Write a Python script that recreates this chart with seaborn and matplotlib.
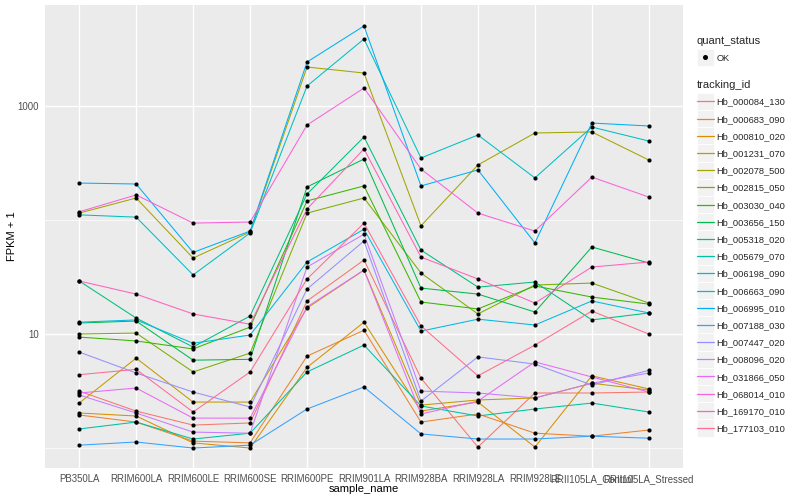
import matplotlib
matplotlib.use("Agg")
import matplotlib.pyplot as plt
from matplotlib.lines import Line2D
from matplotlib.patches import Rectangle
from matplotlib.legend_handler import HandlerLine2D
from matplotlib.ticker import FixedLocator, FixedFormatter, NullFormatter
import seaborn as sns
import pandas as pd

samples = ["PB350LA", "RRIM600LA", "RRIM600LE", "RRIM600SE", "RRIM600PE", "RRIM901LA",
           "RRIM928BA", "RRIM928LA", "RRIM928LE", "RRII105LA_Control", "RRII105LA_Stressed"]

tracking_ids = ["Hb_000084_130", "Hb_000683_090", "Hb_000810_020", "Hb_001231_070", "Hb_002078_500",
                "Hb_002815_050", "Hb_003030_040", "Hb_003656_150", "Hb_005318_020", "Hb_005679_070",
                "Hb_006198_090", "Hb_006663_090", "Hb_006995_010", "Hb_007188_030", "Hb_007447_020",
                "Hb_008096_020", "Hb_031866_050", "Hb_068014_010", "Hb_169170_010", "Hb_177103_010"]

# FPKM + 1 values per gene, in sample order
hb_000084_130 = [3.16, 2.11, 1.59, 1.66, 19.5, 44.6, 4.1, 1.02, 3.04, 3.04, 3.1]
hb_000683_090 = [1.95, 1.69, 1.15, 1.11, 6.4, 10.8, 1.69, 1.99, 1.35, 1.27, 1.44]
hb_000810_020 = [2.03, 1.91, 1.11, 1.0, 5.1, 12.7, 2.11, 2.53, 1.02, 4.3, 3.3]
hb_001231_070 = [2.48, 6.15, 2.53, 2.53, 16.9, 36.4, 2.38, 2.64, 2.75, 3.7, 3.23]
hb_002078_500 = [115, 156, 46.4, 78.5, 2198, 1947, 89, 304, 580, 592, 336]
hb_002815_050 = [10.0, 10.2, 4.65, 6.8, 115, 156, 34.3, 15.0, 26.9, 28, 18.7]
hb_003030_040 = [9.4, 8.7, 7.4, 11.5, 147, 199, 19.1, 16.6, 26.4, 21.1, 18.3]
hb_003656_150 = [12.5, 13.0, 5.9, 6.0, 195, 343, 25.3, 22.4, 15.6, 58, 42]
hb_005318_020 = [29.2, 13.8, 7.7, 14.4, 169, 535, 54.5, 25.8, 28.6, 13.3, 15.3]
hb_005679_070 = [1.47, 1.69, 1.2, 1.35, 4.65, 8.0, 2.34, 1.91, 2.2, 2.48, 2.07]
hb_006198_090 = [111, 106, 33, 77, 1497, 3873, 350, 557, 234, 654, 493]
hb_006663_090 = [12.7, 13.3, 8.3, 9.8, 42.8, 83, 10.6, 13.5, 12.0, 19.5, 15.3]
hb_006995_010 = [211, 207, 52, 80, 2432, 5035, 199, 275, 63, 709, 668]
hb_007188_030 = [1.06, 1.13, 1.0, 1.06, 2.2, 3.43, 1.33, 1.2, 1.2, 1.27, 1.22]
hb_007447_020 = [6.95, 4.55, 3.1, 2.29, 24.8, 65.5, 2.58, 6.3, 5.45, 3.57, 4.8]
hb_008096_020 = [2.92, 2.03, 1.38, 1.35, 38.7, 75, 3.16, 3.04, 2.75, 3.7, 4.55]
hb_031866_050 = [3.04, 3.36, 1.83, 1.83, 17.3, 36.4, 1.99, 2.58, 5.7, 4.2, 3.1]
hb_068014_010 = [118, 166, 94, 96, 681, 1439, 280, 115, 80, 238, 159]
hb_169170_010 = [29.2, 22.4, 15.0, 12.2, 125, 420, 47.3, 30.4, 18.7, 38.7, 42.8]
hb_177103_010 = [4.4, 4.9, 2.07, 4.65, 30.4, 94, 11.8, 4.3, 8.0, 15.9, 10.0]

series = [hb_000084_130, hb_000683_090, hb_000810_020, hb_001231_070, hb_002078_500,
          hb_002815_050, hb_003030_040, hb_003656_150, hb_005318_020, hb_005679_070,
          hb_006198_090, hb_006663_090, hb_006995_010, hb_007188_030, hb_007447_020,
          hb_008096_020, hb_031866_050, hb_068014_010, hb_169170_010, hb_177103_010]

colors = ["#F8766D", "#EA8331", "#D89000", "#C09B00", "#A3A500", "#7CAE00", "#39B600", "#00BB4E",
          "#00BF7D", "#00C1A3", "#00BFC4", "#00BAE0", "#00B0F6", "#35A2FF", "#9590FF", "#C77CFF",
          "#E76BF3", "#FA62DB", "#FF62BC", "#FF6C91"]

rows = []
for tid, vals in zip(tracking_ids, series):
    for s, v in zip(samples, vals):
        rows.append({"tracking_id": tid, "sample_name": s, "fpkm": v, "quant_status": "OK"})
df = pd.DataFrame(rows)

sns.set_theme(style="darkgrid")
plt.rcParams["font.family"] = ["Liberation Sans", "DejaVu Sans"]

fig = plt.figure(figsize=(8, 5), dpi=100)
ax = fig.add_axes([45 / 800, 1 - 468 / 500, (683 - 45) / 800, (468 - 5) / 500])
ax.set_facecolor("#EBEBEB")

sns.lineplot(data=df, x="sample_name", y="fpkm", hue="tracking_id", hue_order=tracking_ids,
             palette=colors, sort=False, legend=False, linewidth=0.75, ax=ax, estimator=None)
sns.scatterplot(data=df, x="sample_name", y="fpkm", color="black", s=9, linewidth=0,
                legend=False, ax=ax, zorder=5)

ax.set_yscale("log")
ax.set_ylim(10 ** -0.175, 10 ** 3.886)
ax.set_xlim(-0.6, len(samples) - 0.4)
ax.yaxis.set_major_locator(FixedLocator([10, 1000]))
ax.yaxis.set_major_formatter(FixedFormatter(["10", "1000"]))
ax.yaxis.set_minor_locator(FixedLocator([1, 100]))
ax.yaxis.set_minor_formatter(NullFormatter())

ax.grid(which="major", color="white", linewidth=1.0)
ax.grid(which="minor", axis="y", color="white", linewidth=0.5)
ax.set_axisbelow(True)
for sp in ax.spines.values():
    sp.set_visible(False)

ax.tick_params(axis="both", which="major", length=2.5, width=0.6, color="#333333",
               labelsize=6.9, labelcolor="#4D4D4D", pad=2)
ax.tick_params(axis="both", which="minor", length=0)
ax.set_xlabel("sample_name", fontsize=8, color="black", labelpad=0)
ax.set_ylabel("FPKM + 1", fontsize=8, color="black", labelpad=0)

KEY_H = 12.4  # key box size in points


class BoxHandler(HandlerLine2D):
    def create_artists(self, legend, orig_handle, xdescent, ydescent, width, height, fontsize, trans):
        yc = (height - ydescent) / 2
        rect = Rectangle((-xdescent, yc - KEY_H / 2), width, KEY_H,
                         facecolor="#F2F2F2", edgecolor="white", linewidth=0.6, transform=trans)
        arts = super().create_artists(legend, orig_handle, xdescent, ydescent, width, height,
                                      fontsize, trans)
        return [rect] + list(arts)


common = dict(loc="upper left", frameon=False, fontsize=6.7, title_fontsize=8,
              handlelength=1.85, labelspacing=0.88, handletextpad=0.3, borderpad=0.2,
              alignment="left")

ok_handle = Line2D([], [], linestyle="none", marker="o", markersize=2.6, color="black")
leg1 = fig.legend([ok_handle], ["OK"], title="quant_status",
                  bbox_to_anchor=(690 / 800, 1 - 29 / 500),
                  handler_map={Line2D: BoxHandler(numpoints=1)}, **common)

line_handles = [Line2D([], [], color=c, linewidth=0.9) for c in colors]
leg2 = fig.legend(line_handles, tracking_ids, title="tracking_id",
                  bbox_to_anchor=(690 / 800, 1 - 73 / 500),
                  handler_map={Line2D: BoxHandler()}, **common)

fig.savefig("out.png", dpi=100, facecolor="white")
